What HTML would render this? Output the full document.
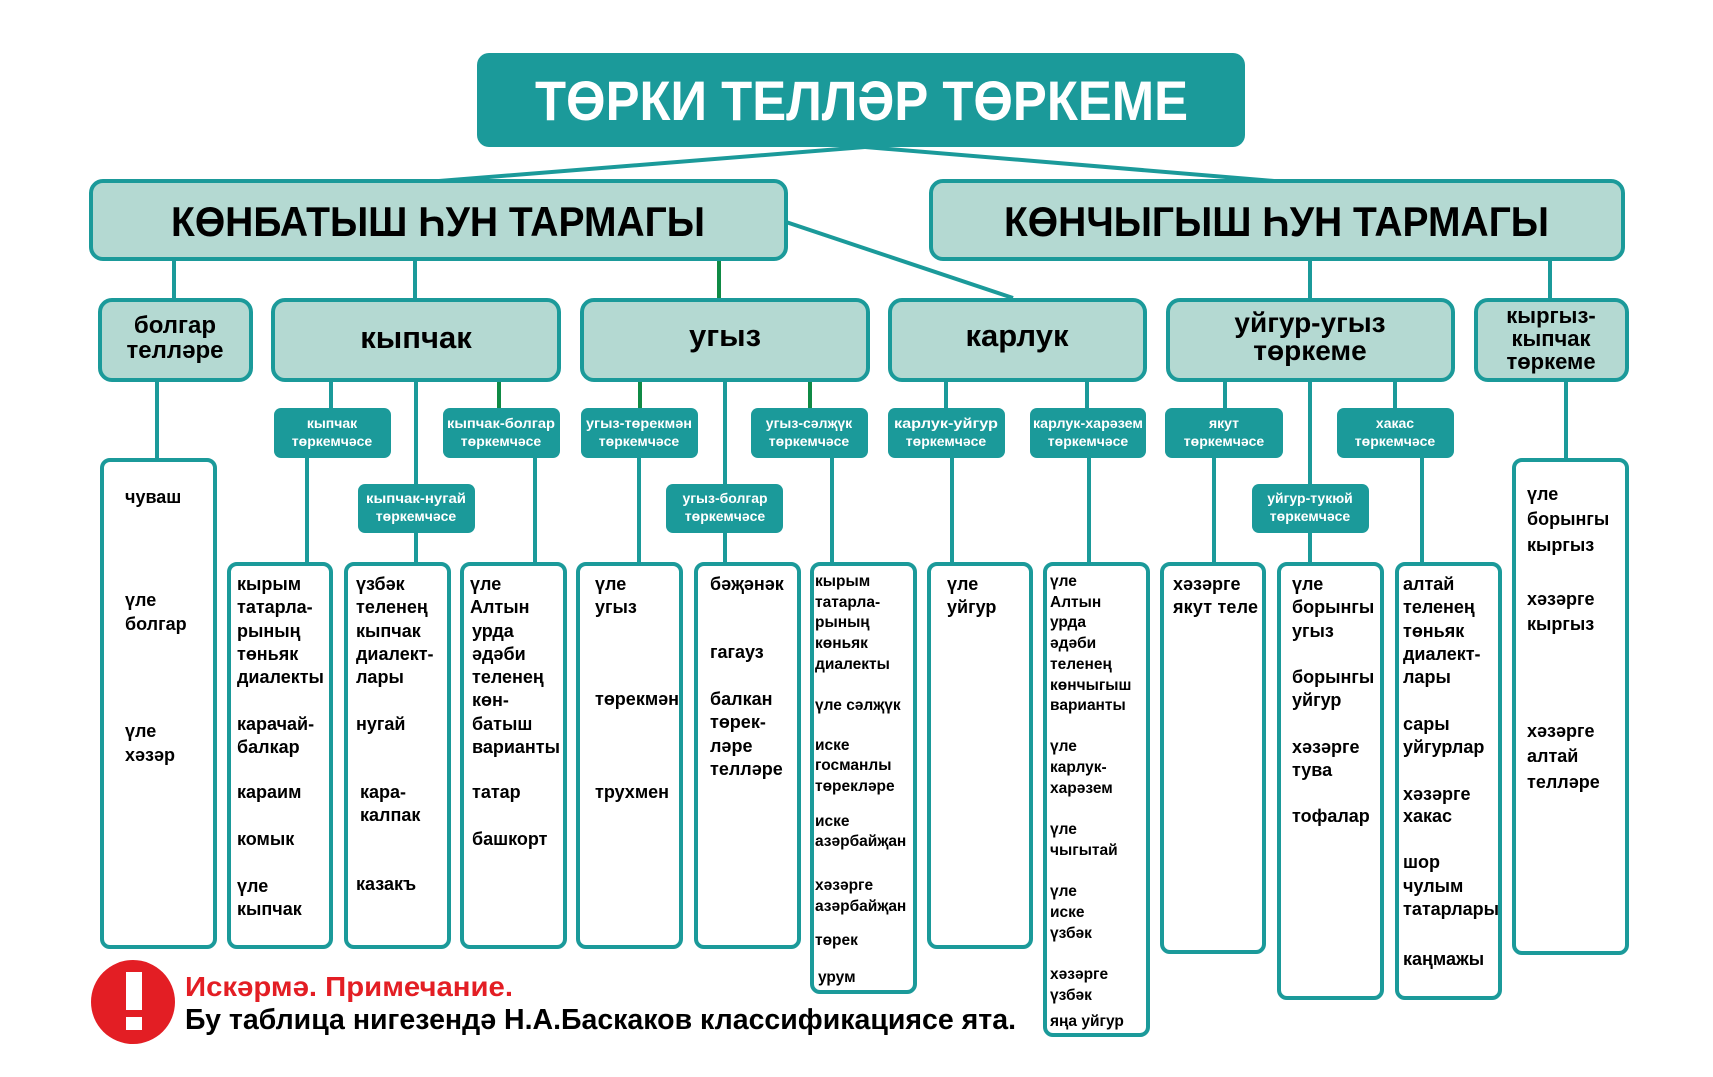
<!DOCTYPE html>
<html><head><meta charset="utf-8"><style>
html,body{margin:0;padding:0;background:#fff;width:1713px;height:1077px;overflow:hidden}
svg{display:block}
text{font-family:"Liberation Sans",sans-serif;font-weight:bold}
.lf{font-size:18px;fill:#000}
.sm{font-size:15.5px;fill:#000}
.w{font-size:14px;fill:#fff;text-anchor:middle}
.l2{fill:#000;text-anchor:middle}
</style></head><body>
<svg width="1713" height="1077" viewBox="0 0 1713 1077" xmlns="http://www.w3.org/2000/svg">
<g stroke="#1b9a9a" stroke-width="4" fill="none">
<line x1="865" y1="147" x2="439" y2="181"/>
<line x1="865" y1="147" x2="1274" y2="181"/>
<line x1="786" y1="222" x2="1013" y2="298"/>
<line x1="174" y1="259" x2="174" y2="298"/>
<line x1="415" y1="259" x2="415" y2="298"/>
<line x1="1310" y1="259" x2="1310" y2="298"/>
<line x1="1550" y1="259" x2="1550" y2="298"/>
<line x1="157" y1="380" x2="157" y2="459"/>
<line x1="331" y1="380" x2="331" y2="408"/>
<line x1="416" y1="380" x2="416" y2="563"/>
<line x1="725" y1="380" x2="725" y2="563"/>
<line x1="946" y1="380" x2="946" y2="408"/>
<line x1="1087" y1="380" x2="1087" y2="408"/>
<line x1="1225" y1="380" x2="1225" y2="408"/>
<line x1="1310" y1="380" x2="1310" y2="563"/>
<line x1="1395" y1="380" x2="1395" y2="408"/>
<line x1="1566" y1="380" x2="1566" y2="459"/>
<line x1="307" y1="458" x2="307" y2="563"/>
<line x1="535" y1="458" x2="535" y2="563"/>
<line x1="639" y1="458" x2="639" y2="563"/>
<line x1="832" y1="458" x2="832" y2="563"/>
<line x1="952" y1="458" x2="952" y2="563"/>
<line x1="1089" y1="458" x2="1089" y2="563"/>
<line x1="1214" y1="458" x2="1214" y2="563"/>
<line x1="1422" y1="458" x2="1422" y2="563"/>
</g>
<g stroke="#0f8a45" stroke-width="4">
<line x1="719" y1="259" x2="719" y2="298"/>
<line x1="499" y1="380" x2="499" y2="408"/>
<line x1="640" y1="380" x2="640" y2="408"/>
<line x1="810" y1="380" x2="810" y2="408"/>
</g>
<!-- title -->
<rect x="477" y="53" width="768" height="94" rx="12" fill="#1b9a9a"/>
<text x="535" y="120" font-size="56" fill="#fff" textLength="653" lengthAdjust="spacingAndGlyphs">ТӨРКИ ТЕЛЛӘР ТӨРКЕМЕ</text>
<!-- branches -->
<g fill="#b4d9d2" stroke="#1b9a9a" stroke-width="4">
<rect x="91" y="181" width="695" height="78" rx="12"/>
<rect x="931" y="181" width="692" height="78" rx="12"/>
<rect x="100" y="300" width="151" height="80" rx="12"/>
<rect x="273" y="300" width="286" height="80" rx="12"/>
<rect x="582" y="300" width="286" height="80" rx="12"/>
<rect x="890" y="300" width="255" height="80" rx="12"/>
<rect x="1168" y="300" width="285" height="80" rx="12"/>
<rect x="1476" y="300" width="151" height="80" rx="12"/>
</g>
<text x="171" y="236" font-size="42" textLength="534" lengthAdjust="spacingAndGlyphs">КӨНБАТЫШ ҺУН ТАРМАГЫ</text>
<text x="1004" y="236" font-size="42" textLength="545" lengthAdjust="spacingAndGlyphs">КӨНЧЫГЫШ ҺУН ТАРМАГЫ</text>
<text class="l2" x="175" y="333" font-size="24">болгар</text>
<text class="l2" x="175" y="358" font-size="24">телләре</text>
<text class="l2" x="416" y="348" font-size="31">кыпчак</text>
<text class="l2" x="725" y="346" font-size="31">угыз</text>
<text class="l2" x="1017" y="346" font-size="31">карлук</text>
<text class="l2" x="1310" y="332" font-size="28">уйгур-угыз</text>
<text class="l2" x="1310" y="360" font-size="28">төркеме</text>
<text class="l2" x="1551" y="323" font-size="22">кыргыз-</text>
<text class="l2" x="1551" y="346" font-size="22">кыпчак</text>
<text class="l2" x="1551" y="369" font-size="22">төркеме</text>
<!-- subgroups -->
<g fill="#1b9a9a">
<rect x="274" y="408" width="117" height="50" rx="7"/>
<rect x="443" y="408" width="117" height="50" rx="7"/>
<rect x="358" y="484" width="117" height="49" rx="7"/>
<rect x="581" y="408" width="117" height="50" rx="7"/>
<rect x="751" y="408" width="117" height="50" rx="7"/>
<rect x="666" y="484" width="117" height="49" rx="7"/>
<rect x="888" y="408" width="117" height="50" rx="7"/>
<rect x="1030" y="408" width="116" height="50" rx="7"/>
<rect x="1165" y="408" width="118" height="50" rx="7"/>
<rect x="1337" y="408" width="117" height="50" rx="7"/>
<rect x="1252" y="484" width="117" height="49" rx="7"/>
</g>
<g class="w">
<text class="w" x="332" y="428">кыпчак</text><text class="w" x="332" y="446">төркемчәсе</text>
<text class="w" x="501" y="428" textLength="108" lengthAdjust="spacingAndGlyphs">кыпчак-болгар</text><text class="w" x="501" y="446">төркемчәсе</text>
<text class="w" x="416" y="503" textLength="100" lengthAdjust="spacingAndGlyphs">кыпчак-нугай</text><text class="w" x="416" y="521">төркемчәсе</text>
<text class="w" x="639" y="428" textLength="106" lengthAdjust="spacingAndGlyphs">угыз-төрекмән</text><text class="w" x="639" y="446">төркемчәсе</text>
<text class="w" x="809" y="428">угыз-сәлҗүк</text><text class="w" x="809" y="446">төркемчәсе</text>
<text class="w" x="725" y="503">угыз-болгар</text><text class="w" x="725" y="521">төркемчәсе</text>
<text class="w" x="946" y="428" textLength="104" lengthAdjust="spacingAndGlyphs">карлук-уйгур</text><text class="w" x="946" y="446">төркемчәсе</text>
<text class="w" x="1088" y="428" textLength="110" lengthAdjust="spacingAndGlyphs">карлук-харәзем</text><text class="w" x="1088" y="446">төркемчәсе</text>
<text class="w" x="1224" y="428">якут</text><text class="w" x="1224" y="446">төркемчәсе</text>
<text class="w" x="1395" y="428">хакас</text><text class="w" x="1395" y="446">төркемчәсе</text>
<text class="w" x="1310" y="503">уйгур-тукюй</text><text class="w" x="1310" y="521">төркемчәсе</text>
</g>
<!-- leaves -->
<g fill="#fff" stroke="#1b9a9a" stroke-width="4">
<rect x="102" y="460" width="113" height="487" rx="8"/>
<rect x="229" y="564" width="102" height="383" rx="8"/>
<rect x="346" y="564" width="103" height="383" rx="8"/>
<rect x="462" y="564" width="103" height="383" rx="8"/>
<rect x="578" y="564" width="103" height="383" rx="8"/>
<rect x="696" y="564" width="103" height="383" rx="8"/>
<rect x="812" y="564" width="103" height="428" rx="8"/>
<rect x="929" y="564" width="102" height="383" rx="8"/>
<rect x="1045" y="564" width="103" height="471" rx="8"/>
<rect x="1162" y="564" width="102" height="388" rx="8"/>
<rect x="1279" y="564" width="103" height="434" rx="8"/>
<rect x="1397" y="564" width="103" height="434" rx="8"/>
<rect x="1514" y="460" width="113" height="493" rx="8"/>
</g>
<g class="lf" font-size="19">
<text class="lf" x="125" y="503">чуваш</text>
<text class="lf" x="125" y="606">үле</text><text class="lf" x="125" y="630">болгар</text>
<text class="lf" x="125" y="737">үле</text><text class="lf" x="125" y="761">хәзәр</text>
</g>
<g>
<text class="lf" x="237" y="590">кырым</text><text class="lf" x="237" y="613">татарла-</text><text class="lf" x="237" y="637">рының</text><text class="lf" x="237" y="660">төньяк</text><text class="lf" x="237" y="683">диалекты</text>
<text class="lf" x="237" y="730">карачай-</text><text class="lf" x="237" y="753">балкар</text>
<text class="lf" x="237" y="798">караим</text>
<text class="lf" x="237" y="845">комык</text>
<text class="lf" x="237" y="892">үле</text><text class="lf" x="237" y="915">кыпчак</text>

<text class="lf" x="356" y="590">үзбәк</text><text class="lf" x="356" y="613">теленең</text><text class="lf" x="356" y="637">кыпчак</text><text class="lf" x="356" y="660">диалект-</text><text class="lf" x="356" y="683">лары</text>
<text class="lf" x="356" y="730">нугай</text>
<text class="lf" x="360" y="798">кара-</text><text class="lf" x="360" y="821">калпак</text>
<text class="lf" x="356" y="890">казакъ</text>

<text class="lf" x="470" y="590">үле</text><text class="lf" x="470" y="613">Алтын</text><text class="lf" x="472" y="637">урда</text><text class="lf" x="472" y="660">әдәби</text><text class="lf" x="472" y="683">теленең</text><text class="lf" x="472" y="706">көн-</text><text class="lf" x="472" y="730">батыш</text><text class="lf" x="472" y="753">варианты</text>
<text class="lf" x="472" y="798">татар</text>
<text class="lf" x="472" y="845">башкорт</text>

<text class="lf" x="595" y="590">үле</text><text class="lf" x="595" y="613">угыз</text>
<text class="lf" x="595" y="705">төрекмән</text>
<text class="lf" x="595" y="798">трухмен</text>

<text class="lf" x="710" y="590">бәҗәнәк</text>
<text class="lf" x="710" y="658">гагауз</text>
<text class="lf" x="710" y="705">балкан</text><text class="lf" x="710" y="728">төрек-</text><text class="lf" x="710" y="752">ләре</text><text class="lf" x="710" y="775">телләре</text>

<text class="sm" x="815" y="586">кырым</text><text class="sm" x="815" y="607">татарла-</text><text class="sm" x="815" y="627">рының</text><text class="sm" x="815" y="648">көньяк</text><text class="sm" x="815" y="669">диалекты</text>
<text class="sm" x="815" y="710">үле сәлҗүк</text>
<text class="sm" x="815" y="750">иске</text><text class="sm" x="815" y="770">госманлы</text><text class="sm" x="815" y="791">төрекләре</text>
<text class="sm" x="815" y="826">иске</text><text class="sm" x="815" y="846">азәрбайҗан</text>
<text class="sm" x="815" y="890">хәзәрге</text><text class="sm" x="815" y="911">азәрбайҗан</text>
<text class="sm" x="815" y="945">төрек</text>
<text class="sm" x="818" y="982">урум</text>

<text class="lf" x="947" y="590">үле</text><text class="lf" x="947" y="613">уйгур</text>

<text class="sm" x="1050" y="586">үле</text><text class="sm" x="1050" y="607">Алтын</text><text class="sm" x="1050" y="627">урда</text><text class="sm" x="1050" y="648">әдәби</text><text class="sm" x="1050" y="669">теленең</text><text class="sm" x="1050" y="690">көнчыгыш</text><text class="sm" x="1050" y="710">варианты</text>
<text class="sm" x="1050" y="751">үле</text><text class="sm" x="1050" y="772">карлук-</text><text class="sm" x="1050" y="793">харәзем</text>
<text class="sm" x="1050" y="834">үле</text><text class="sm" x="1050" y="855">чыгытай</text>
<text class="sm" x="1050" y="896">үле</text><text class="sm" x="1050" y="917">иске</text><text class="sm" x="1050" y="938">үзбәк</text>
<text class="sm" x="1050" y="979">хәзәрге</text><text class="sm" x="1050" y="1000">үзбәк</text>
<text class="sm" x="1050" y="1026">яңа уйгур</text>

<text class="lf" x="1173" y="590">хәзәрге</text><text class="lf" x="1173" y="613" textLength="85" lengthAdjust="spacing">якут  теле</text>

<text class="lf" x="1292" y="590">үле</text><text class="lf" x="1292" y="613">борынгы</text><text class="lf" x="1292" y="637">угыз</text>
<text class="lf" x="1292" y="683">борынгы</text><text class="lf" x="1292" y="706">уйгур</text>
<text class="lf" x="1292" y="753">хәзәрге</text><text class="lf" x="1292" y="776">тува</text>
<text class="lf" x="1292" y="822">тофалар</text>

<text class="lf" x="1403" y="590">алтай</text><text class="lf" x="1403" y="613">теленең</text><text class="lf" x="1403" y="637">төньяк</text><text class="lf" x="1403" y="660">диалект-</text><text class="lf" x="1403" y="683">лары</text>
<text class="lf" x="1403" y="730">сары</text><text class="lf" x="1403" y="753">уйгурлар</text>
<text class="lf" x="1403" y="800">хәзәрге</text><text class="lf" x="1403" y="822">хакас</text>
<text class="lf" x="1403" y="868">шор</text><text class="lf" x="1403" y="892">чулым</text><text class="lf" x="1403" y="915">татарлары</text>
<text class="lf" x="1403" y="965">каңмажы</text>

<text class="lf" x="1527" y="500" font-size="20">үле</text><text class="lf" x="1527" y="525" font-size="20">борынгы</text><text class="lf" x="1527" y="551" font-size="20">кыргыз</text>
<text class="lf" x="1527" y="605" font-size="20">хәзәрге</text><text class="lf" x="1527" y="630" font-size="20">кыргыз</text>
<text class="lf" x="1527" y="737" font-size="20">хәзәрге</text><text class="lf" x="1527" y="762" font-size="20">алтай</text><text class="lf" x="1527" y="788" font-size="20">телләре</text>
</g>
<!-- footer -->
<circle cx="133" cy="1002" r="42" fill="#e31e24"/>
<rect x="126" y="972" width="16" height="38" fill="#fff"/>
<rect x="126" y="1017" width="16" height="13" fill="#fff"/>
<text x="185" y="996" font-size="28" fill="#e31e24" textLength="328" lengthAdjust="spacingAndGlyphs">Искәрмә. Примечание.</text>
<text x="185" y="1029" font-size="29" fill="#000" textLength="831" lengthAdjust="spacingAndGlyphs">Бу таблица нигезендә Н.А.Баскаков классификациясе ята.</text>
</svg>
</body></html>
